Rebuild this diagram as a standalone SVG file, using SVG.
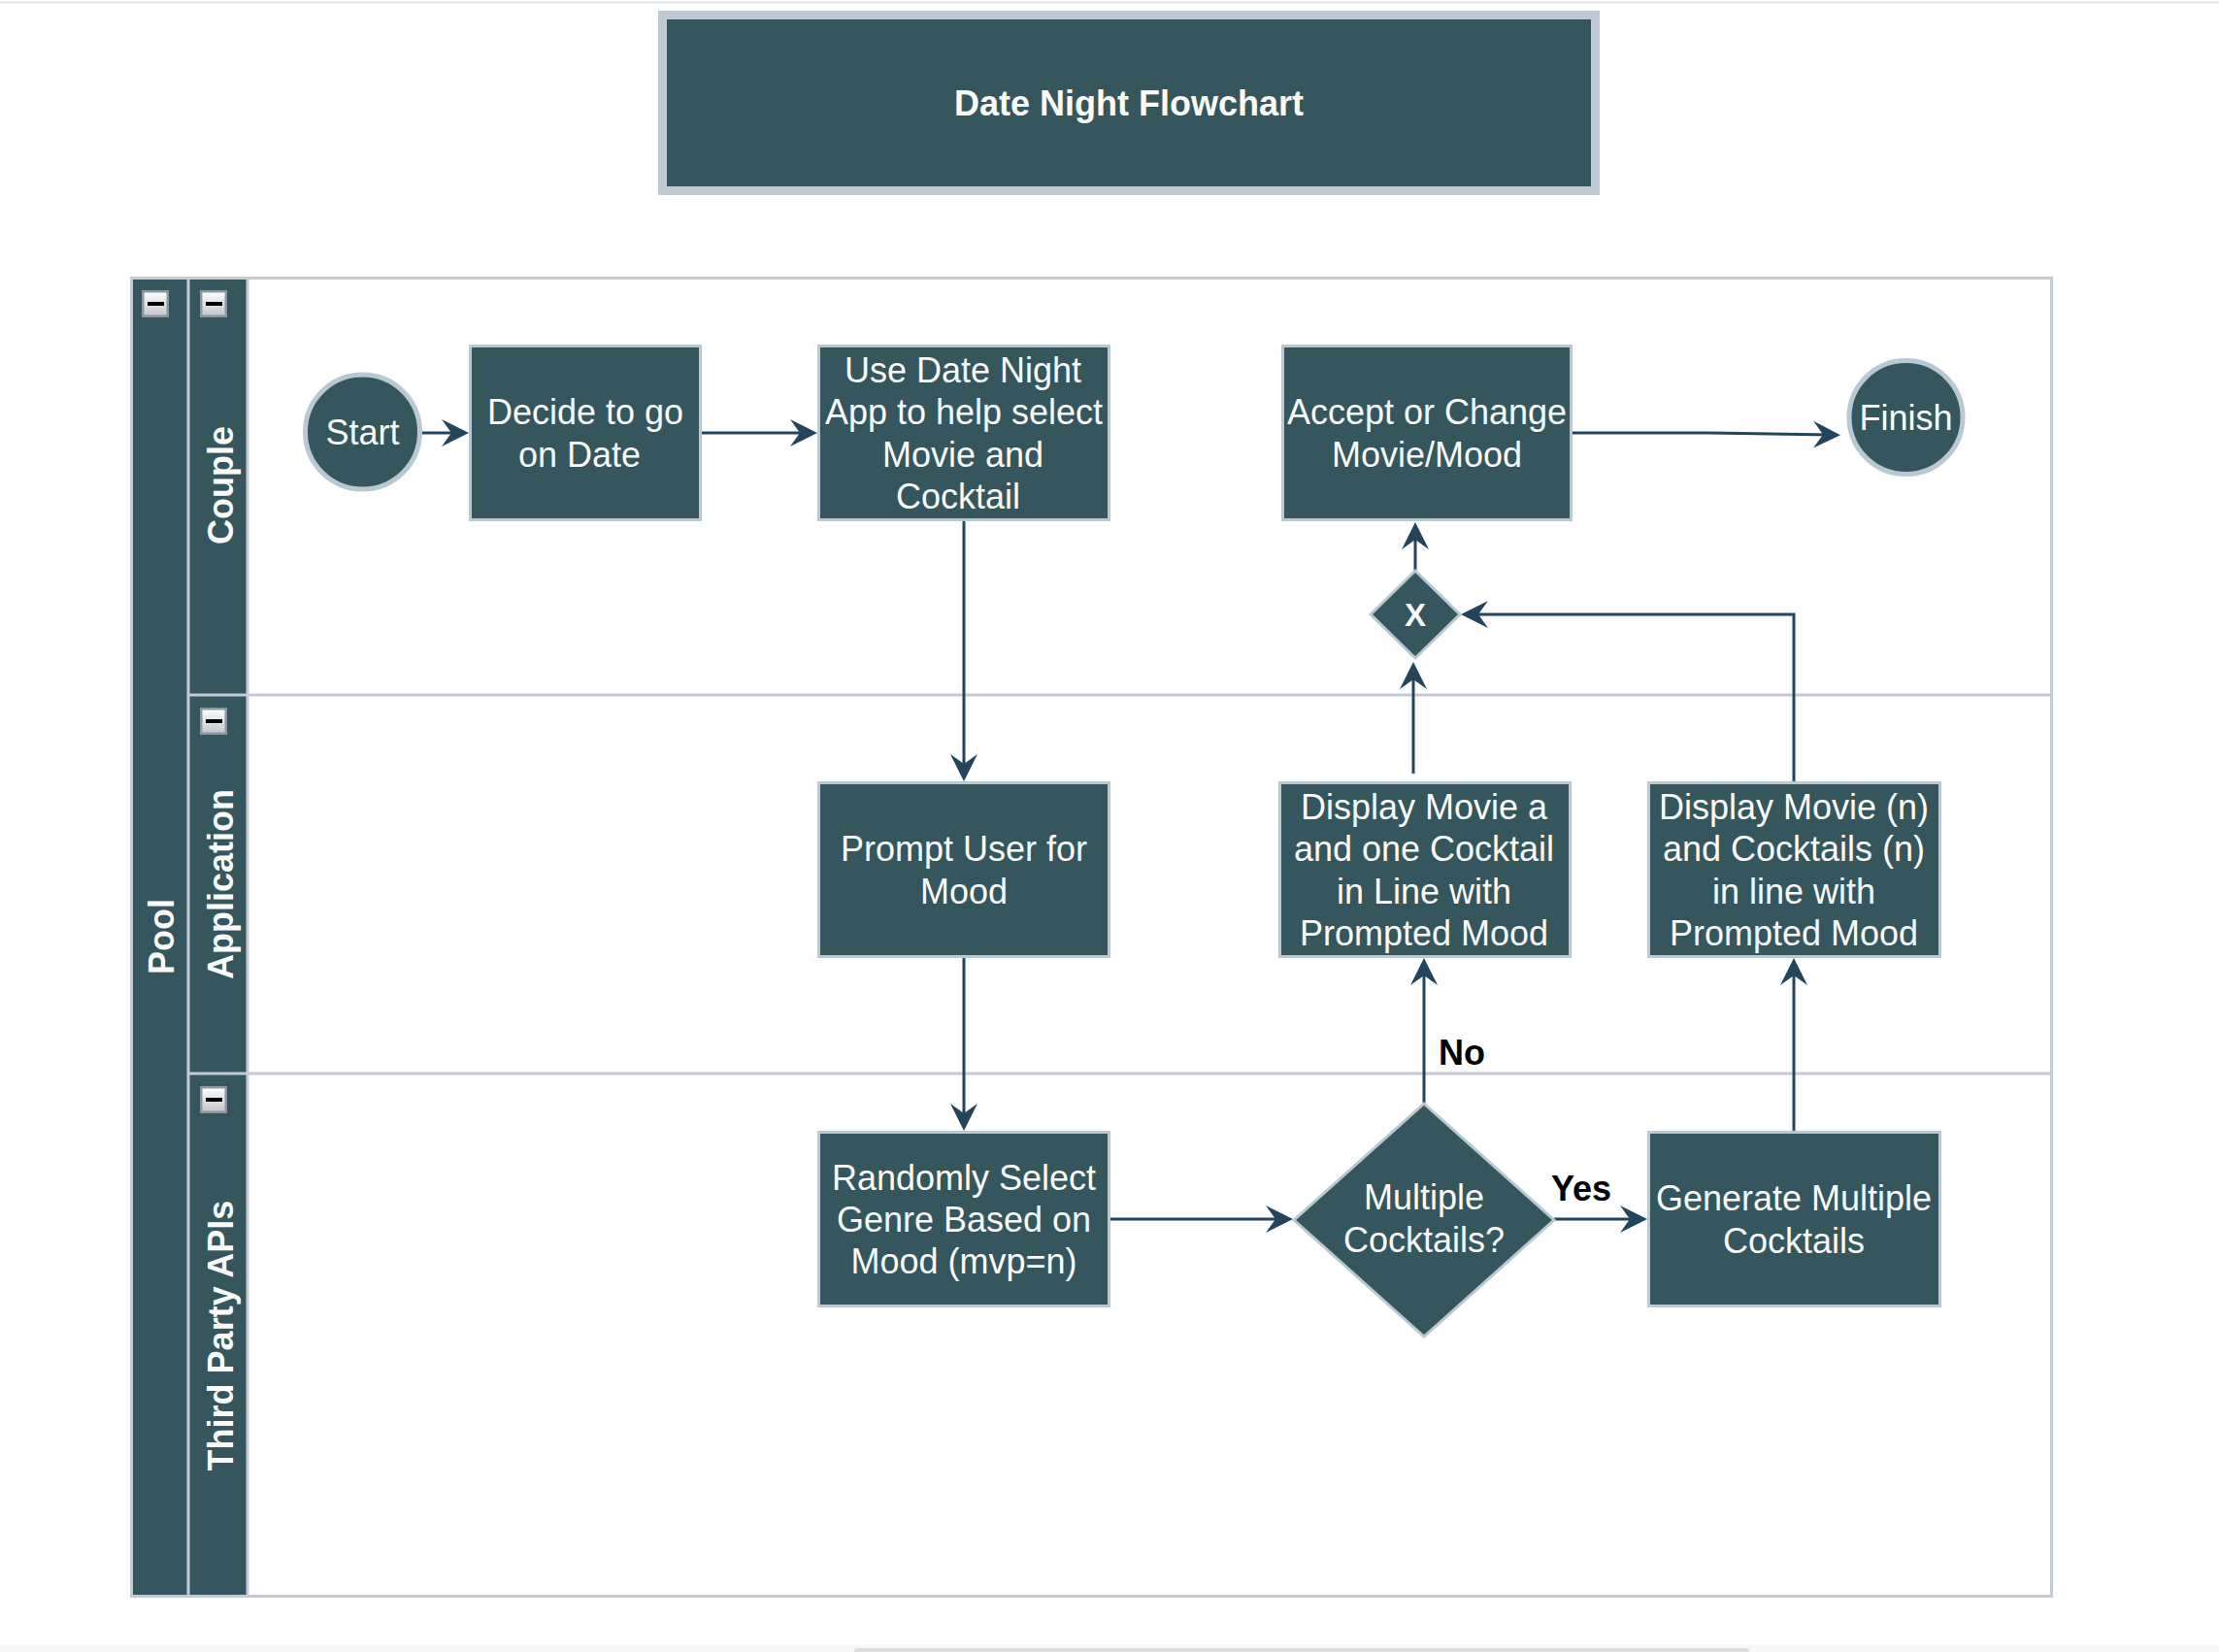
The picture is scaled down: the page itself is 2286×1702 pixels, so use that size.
<svg xmlns="http://www.w3.org/2000/svg" width="2286" height="1702" viewBox="0 0 2286 1702">
<defs>
<style>
.shape{fill:#34565C;stroke:#BAC8D3;stroke-width:3}
.term{fill:#34565C;stroke:#BAC8D3;stroke-width:5}
.t{font-family:"Liberation Sans",Arial,Helvetica,sans-serif;font-size:36px;fill:#FAFAFA;text-anchor:middle}
.b{font-weight:bold}
.hdr{fill:#34565C}
.sep{stroke:#C3CAD4;stroke-width:3;fill:none}
.edge{fill:none;stroke:#23445D;stroke-width:3;marker-end:url(#arr)}
.elbl{font-family:"Liberation Sans",Arial,Helvetica,sans-serif;font-size:36px;font-weight:bold;fill:#000000;text-anchor:middle}
</style>
<linearGradient id="btn" x1="0" y1="0" x2="0" y2="1">
<stop offset="0" stop-color="#FFFFFF"/>
<stop offset="1" stop-color="#C2C5C9"/>
</linearGradient>
<marker id="arr" markerUnits="userSpaceOnUse" markerWidth="28" markerHeight="28" viewBox="0 0 28 28" refX="18" refY="14" orient="auto">
<path d="M0,0 L28,14 L0,28 L10,14 Z" fill="#23445D"/>
</marker>
<g id="cb">
<rect x="1.25" y="1.25" width="25.5" height="25.5" fill="url(#btn)" stroke="#8F96A1" stroke-width="2.5"/>
<rect x="6" y="12" width="17" height="4" fill="#000000"/>
</g>
</defs>

<rect x="0" y="0" width="2286" height="1702" fill="#FFFFFF"/>
<rect x="0" y="1.5" width="2286" height="2" fill="#DFE2E6"/>
<rect x="0" y="1695" width="2286" height="7" fill="#F7F7F7"/>
<rect x="880" y="1698" width="922" height="8" rx="4" fill="#DCDCDC"/>

<g id="title">
<rect x="682.5" y="15.5" width="961" height="181" fill="#34565C" stroke="#BFC8D3" stroke-width="9"/>
<text class="t b" x="1163" y="119">Date Night Flowchart</text>
</g>

<g id="pool">
<rect x="134" y="285" width="60" height="1361" class="hdr"/>
<rect x="194" y="285" width="61" height="1361" class="hdr"/>
<rect x="255" y="285" width="1860" height="1361" fill="#FFFFFF"/>
<line class="sep" x1="194" y1="285" x2="194" y2="1646"/>
<line class="sep" x1="255" y1="285" x2="255" y2="1646"/>
<line class="sep" x1="194" y1="716" x2="2115" y2="716"/>
<line class="sep" x1="194" y1="1106" x2="2115" y2="1106"/>
<rect x="135.5" y="286.5" width="1978" height="1358" fill="none" stroke="#C3CAD4" stroke-width="3"/>
<use href="#cb" x="146" y="299"/>
<text class="t b" transform="translate(179,965) rotate(-90)">Pool</text>
</g>

<g id="lane-couple">
<use href="#cb" x="206" y="299"/>
<text class="t b" transform="translate(240,500) rotate(-90)">Couple</text>
</g>
<g id="lane-application">
<use href="#cb" x="206" y="729"/>
<text class="t b" transform="translate(240,911) rotate(-90)">Application</text>
</g>
<g id="lane-thirdparty">
<use href="#cb" x="206" y="1119"/>
<text class="t b" transform="translate(240,1376) rotate(-90)">Third Party APIs</text>
</g>

<g id="connectors">
<path class="edge" d="M434,446 L473,446"/>
<path class="edge" d="M723,446 L832,446"/>
<path class="edge" d="M993,537 L993,795"/>
<path class="edge" d="M993,987 L993,1155"/>
<path class="edge" d="M1144,1256 L1322,1256"/>
<path class="edge" d="M1601,1256 L1687,1256"/>
<path class="edge" d="M1467,1137 L1467,997"/>
<path class="edge" d="M1848,1166 L1848,997"/>
<path class="edge" d="M1456,797 L1456,692"/>
<path class="edge" d="M1848,805 L1848,633 L1515,633"/>
<path class="edge" d="M1458,588 L1458,548"/>
<path class="edge" d="M1620,446 L1760,446 L1886,448"/>
<text class="elbl" x="1506" y="1097">No</text>
<text class="elbl" x="1629" y="1237">Yes</text>
</g>

<g id="start">
<circle class="term" cx="373.5" cy="445" r="59"/>
<text class="t" x="373.5" y="458">Start</text>
</g>

<g id="decide">
<rect class="shape" x="484.5" y="356.5" width="237" height="179"/>
<text class="t" x="603" y="437.4">Decide to go</text>
<text class="t" x="597" y="480.6">on Date</text>
</g>

<g id="use-app">
<rect class="shape" x="843.5" y="356.5" width="299" height="179"/>
<text class="t" x="992" y="394.2">Use Date Night</text>
<text class="t" x="993" y="437.4">App to help select</text>
<text class="t" x="992" y="480.6">Movie and</text>
<text class="t" x="987" y="523.8">Cocktail</text>
</g>

<g id="accept">
<rect class="shape" x="1321.5" y="356.5" width="297" height="179"/>
<text class="t" x="1470" y="437.4">Accept or Change</text>
<text class="t" x="1470" y="480.6">Movie/Mood</text>
</g>

<g id="finish">
<circle class="term" cx="1963.5" cy="430" r="58.5"/>
<text class="t" x="1963.5" y="443">Finish</text>
</g>

<g id="gateway-x">
<polygon class="shape" points="1458,588 1504,633 1458,678 1412,633"/>
<text class="t b" x="1458" y="645" style="font-size:33px">X</text>
</g>

<g id="prompt">
<rect class="shape" x="843.5" y="806.5" width="299" height="179"/>
<text class="t" x="993" y="887.4">Prompt User for</text>
<text class="t" x="993" y="930.6">Mood</text>
</g>

<g id="display-one">
<rect class="shape" x="1318.5" y="806.5" width="299" height="179"/>
<text class="t" x="1467" y="844.2">Display Movie a</text>
<text class="t" x="1467" y="887.4">and one Cocktail</text>
<text class="t" x="1467" y="930.6">in Line with</text>
<text class="t" x="1467" y="973.8">Prompted Mood</text>
</g>

<g id="display-multi">
<rect class="shape" x="1698.5" y="806.5" width="300" height="179"/>
<text class="t" x="1848" y="844.2">Display Movie (n)</text>
<text class="t" x="1848" y="887.4">and Cocktails (n)</text>
<text class="t" x="1848" y="930.6">in line with</text>
<text class="t" x="1848" y="973.8">Prompted Mood</text>
</g>

<g id="randomly">
<rect class="shape" x="843.5" y="1166.5" width="299" height="179"/>
<text class="t" x="993" y="1225.8">Randomly Select</text>
<text class="t" x="993" y="1269">Genre Based on</text>
<text class="t" x="993" y="1312.2">Mood (mvp=n)</text>
</g>

<g id="multiple">
<polygon class="shape" points="1467,1137 1601,1257 1467,1377 1333,1257"/>
<text class="t" x="1467" y="1246.4">Multiple</text>
<text class="t" x="1467" y="1289.6">Cocktails?</text>
</g>

<g id="generate">
<rect class="shape" x="1698.5" y="1166.5" width="300" height="179"/>
<text class="t" x="1848" y="1247.4">Generate Multiple</text>
<text class="t" x="1848" y="1290.6">Cocktails</text>
</g>
</svg>
